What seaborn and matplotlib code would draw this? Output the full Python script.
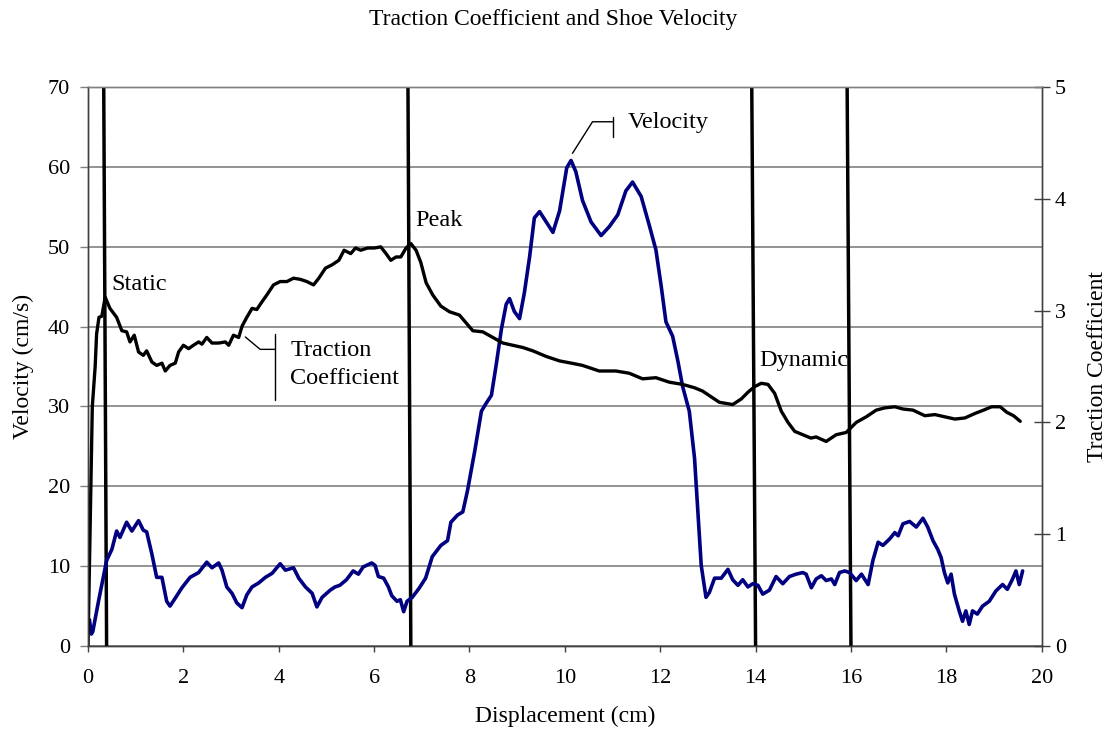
import matplotlib
matplotlib.use('Agg')
import matplotlib.pyplot as plt
import pandas as pd
import seaborn as sns

# shoe velocity (cm/s) against displacement (cm)
vel_disp = [0.03, 0.07, 0.1, 0.22, 0.39, 0.5, 0.6, 0.67, 0.81, 0.92, 1.06, 1.16, 1.23, 1.34,
            1.44, 1.55, 1.65, 1.72, 1.83, 1.97, 2.14, 2.32, 2.49, 2.6, 2.74, 2.81, 2.91, 3.02,
            3.12, 3.23, 3.33, 3.44, 3.58, 3.72, 3.86, 4.03, 4.14, 4.31, 4.42, 4.56, 4.7, 4.8,
            4.91, 5.08, 5.18, 5.28, 5.42, 5.56, 5.67, 5.77, 5.95, 6.02, 6.09, 6.2, 6.3, 6.37,
            6.48, 6.55, 6.62, 6.69, 6.8, 6.94, 7.08, 7.22, 7.4, 7.54, 7.61, 7.75, 7.86, 7.96,
            8.11, 8.25, 8.35, 8.46, 8.56, 8.67, 8.77, 8.84, 8.94, 9.05, 9.15, 9.26, 9.36, 9.47,
            9.61, 9.75, 9.89, 10.04, 10.13, 10.23, 10.37, 10.55, 10.76, 10.93, 11.11, 11.28,
            11.42, 11.6, 11.77, 11.91, 12.02, 12.12, 12.26, 12.37, 12.47, 12.61, 12.72, 12.79,
            12.86, 12.96, 13.03, 13.14, 13.28, 13.42, 13.52, 13.63, 13.73, 13.84, 13.94, 14.05,
            14.15, 14.29, 14.43, 14.57, 14.71, 14.85, 14.99, 15.06, 15.17, 15.27, 15.38, 15.48,
            15.59, 15.66, 15.76, 15.87, 15.97, 16.11, 16.22, 16.36, 16.46, 16.57, 16.67, 16.81,
            16.92, 16.99, 17.09, 17.23, 17.37, 17.51, 17.61, 17.72, 17.82, 17.89, 17.96, 18.03,
            18.1, 18.17, 18.27, 18.34, 18.41, 18.48, 18.55, 18.65, 18.76, 18.9, 19.04, 19.18,
            19.28, 19.39, 19.46, 19.53, 19.6]
velocity = [3.3, 1.5, 1.8, 5.6, 10.7, 12.1, 14.4, 13.6, 15.5, 14.4, 15.7, 14.5, 14.3, 11.5,
            8.6, 8.6, 5.6, 5.0, 6.0, 7.3, 8.6, 9.2, 10.5, 9.8, 10.4, 9.5, 7.4, 6.6,
            5.4, 4.8, 6.4, 7.4, 7.9, 8.6, 9.1, 10.3, 9.5, 9.8, 8.5, 7.4, 6.6, 4.9,
            6.1, 7.0, 7.4, 7.6, 8.3, 9.4, 9.0, 9.9, 10.4, 10.1, 8.7, 8.5, 7.4, 6.3,
            5.6, 5.8, 4.3, 5.6, 6.1, 7.2, 8.5, 11.2, 12.6, 13.2, 15.5, 16.4, 16.8, 19.5,
            24.4, 29.4, 30.4, 31.4, 35.2, 39.7, 42.8, 43.5, 41.9, 41.0, 44.2, 48.7, 53.6, 54.4,
            53.1, 51.8, 54.5, 59.9, 60.8, 59.4, 55.8, 53.1, 51.4, 52.5, 54.0, 57.0,
            58.1, 56.3, 52.7, 49.6, 45.1, 40.6, 38.8, 35.7, 32.5, 29.4, 23.5, 16.8,
            10.1, 6.1, 6.7, 8.5, 8.5, 9.6, 8.3, 7.6, 8.3, 7.4, 7.8, 7.6,
            6.5, 7.0, 8.7, 7.8, 8.7, 9.0, 9.2, 9.0, 7.3, 8.4, 8.8, 8.2,
            8.4, 7.7, 9.2, 9.4, 9.2, 8.2, 9.0, 7.7, 10.7, 13.0, 12.6, 13.4,
            14.2, 13.8, 15.3, 15.6, 14.9, 16.0, 14.9, 13.2, 12.1, 11.1, 9.2, 7.9,
            9.0, 6.5, 4.4, 3.1, 4.4, 2.7, 4.4, 4.0, 5.0, 5.6, 6.9, 7.7,
            7.1, 8.4, 9.4, 7.7, 9.4]

# traction coefficient against displacement (cm)
tc_disp = [0.0, 0.06, 0.09, 0.15, 0.18, 0.23, 0.29, 0.36, 0.46, 0.6, 0.71, 0.81, 0.88, 0.97,
           1.06, 1.16, 1.23, 1.34, 1.44, 1.55, 1.62, 1.72, 1.83, 1.9, 2.0, 2.11, 2.21, 2.32,
           2.39, 2.49, 2.6, 2.74, 2.88, 2.95, 3.05, 3.16, 3.23, 3.33, 3.44, 3.54, 3.65, 3.75,
           3.89, 4.03, 4.17, 4.31, 4.45, 4.59, 4.73, 4.84, 4.98, 5.12, 5.26, 5.37, 5.51, 5.61,
           5.72, 5.86, 6.0, 6.14, 6.25, 6.35, 6.46, 6.56, 6.67, 6.77, 6.88, 6.98, 7.09, 7.23,
           7.4, 7.58, 7.79, 7.93, 8.07, 8.28, 8.49, 8.7, 8.91, 9.12, 9.33, 9.61, 9.89, 10.14,
           10.37, 10.72, 11.07, 11.35, 11.63, 11.91, 12.19, 12.47, 12.72, 12.89, 13.03, 13.24,
           13.52, 13.7, 13.84, 13.98, 14.12, 14.26, 14.4, 14.54, 14.68, 14.82, 14.99, 15.16,
           15.27, 15.48, 15.69, 15.9, 16.11, 16.32, 16.53, 16.71, 16.92, 17.09, 17.3, 17.55,
           17.76, 17.97, 18.18, 18.39, 18.6, 18.78, 18.95, 19.13, 19.27, 19.41, 19.55]
traction = [0.0, 1.43, 2.14, 2.50, 2.79, 2.94, 2.95, 3.12, 3.02, 2.94, 2.82, 2.81, 2.72, 2.78,
            2.63, 2.60, 2.64, 2.54, 2.51, 2.53, 2.46, 2.51, 2.53, 2.63, 2.69, 2.66, 2.69, 2.72,
            2.70, 2.76, 2.71, 2.71, 2.72, 2.69, 2.78, 2.76, 2.86, 2.94, 3.02, 3.01, 3.08, 3.14,
            3.23, 3.26, 3.26, 3.29, 3.28, 3.26, 3.23, 3.29, 3.38, 3.41, 3.45, 3.54, 3.51, 3.56,
            3.54, 3.56, 3.56, 3.57, 3.51, 3.45, 3.48, 3.48, 3.56, 3.60, 3.54, 3.43, 3.25, 3.14,
            3.04, 2.99, 2.96, 2.89, 2.82, 2.81, 2.76, 2.71, 2.69, 2.67, 2.64, 2.59, 2.55, 2.53,
            2.51, 2.46, 2.46, 2.44, 2.39, 2.40, 2.36, 2.34, 2.31, 2.28, 2.24, 2.18,
            2.16, 2.21, 2.27, 2.32, 2.35, 2.34, 2.26, 2.10, 2.00, 1.92, 1.89, 1.86,
            1.87, 1.83, 1.89, 1.91, 2.00, 2.05, 2.11, 2.13, 2.14, 2.12, 2.11, 2.06,
            2.07, 2.05, 2.03, 2.04, 2.08, 2.11, 2.14, 2.14, 2.09, 2.06, 2.01]

# phase marker lines: displacement at the bottom and top of the plot
marker_bottom = [0.39, 6.77, 14.0, 16.0]
marker_top = [0.33, 6.71, 13.92, 15.92]

vel_df = pd.DataFrame({'Displacement': vel_disp, 'Velocity': velocity})
tc_df = pd.DataFrame({'Displacement': tc_disp, 'Traction': traction})

sns.set_style('white')
plt.rcParams['font.family'] = ['Liberation Serif', 'DejaVu Serif']
plt.rcParams['font.size'] = 16
plt.rcParams['text.color'] = 'black'
plt.rcParams['axes.labelcolor'] = 'black'
plt.rcParams['xtick.color'] = 'black'
plt.rcParams['ytick.color'] = 'black'

fig = plt.figure(figsize=(11.07, 7.4), dpi=100)
ax = fig.add_axes([0.0795, 0.127, 0.8615, 0.7554])
ax2 = ax.twinx()

ax.set_xlim(0, 20)
ax.set_ylim(0, 70)
ax2.set_ylim(0, 5)
ax.set_xticks(range(0, 21, 2))
ax.set_yticks(range(0, 71, 10))
ax2.set_yticks(range(0, 6))

ax.yaxis.grid(True, color='#808080', lw=1.2)
ax.set_axisbelow(True)

for b, t in zip(marker_bottom, marker_top):
    ax.plot([b, t], [0, 70], color='black', lw=2.5, zorder=3)

sns.lineplot(data=vel_df, x='Displacement', y='Velocity', ax=ax, color='#000080', lw=2.6, zorder=4)
sns.lineplot(data=tc_df, x='Displacement', y='Traction', ax=ax2, color='black', lw=2.4)

for a in (ax, ax2):
    for s in a.spines.values():
        s.set_color('#404040')
        s.set_linewidth(1)
    a.spines['top'].set_color('#808080')

ax.tick_params(axis='y', direction='out', length=6, width=1, color='#808080', pad=7, labelsize=16, left=True)
ax.tick_params(axis='x', direction='out', length=4.5, width=1, color='#404040', pad=12, labelsize=16, bottom=True)
ax2.tick_params(axis='y', direction='inout', length=11, width=1, color='#404040', pad=4, labelsize=16, right=True)

ax.set_xlabel('Displacement (cm)', fontsize=17, labelpad=13)
ax.set_ylabel('Velocity (cm/s)', fontsize=17, labelpad=10)
ax2.set_ylabel('Traction Coefficient', fontsize=17, labelpad=15)
fig.suptitle('Traction Coefficient and Shoe Velocity', fontsize=17, y=0.988)

# labels and leader lines
ax.text(0.48, 45.3, 'Static', fontsize=17.5, va='center', ha='left')
ax.text(6.87, 53.3, 'Peak', fontsize=17.5, va='center', ha='left')
ax.text(14.08, 35.8, 'Dynamic', fontsize=17.5, va='center', ha='left')
ax.text(11.32, 65.5, 'Velocity', fontsize=17.5, va='center', ha='left')
ax.text(4.24, 35.3, 'Traction\nCoefficient', fontsize=17.5, va='center', ha='left', linespacing=1.45)

ax.plot([10.16, 10.58, 11.0], [61.7, 65.65, 65.65], color='black', lw=1)
ax.plot([11.0, 11.0], [63.7, 66.2], color='black', lw=1)
ax.plot([3.30, 3.61, 3.93], [38.7, 37.15, 37.15], color='black', lw=1)
ax.plot([3.93, 3.93], [30.8, 39.07], color='black', lw=1)

fig.savefig('out.png', dpi=100)
